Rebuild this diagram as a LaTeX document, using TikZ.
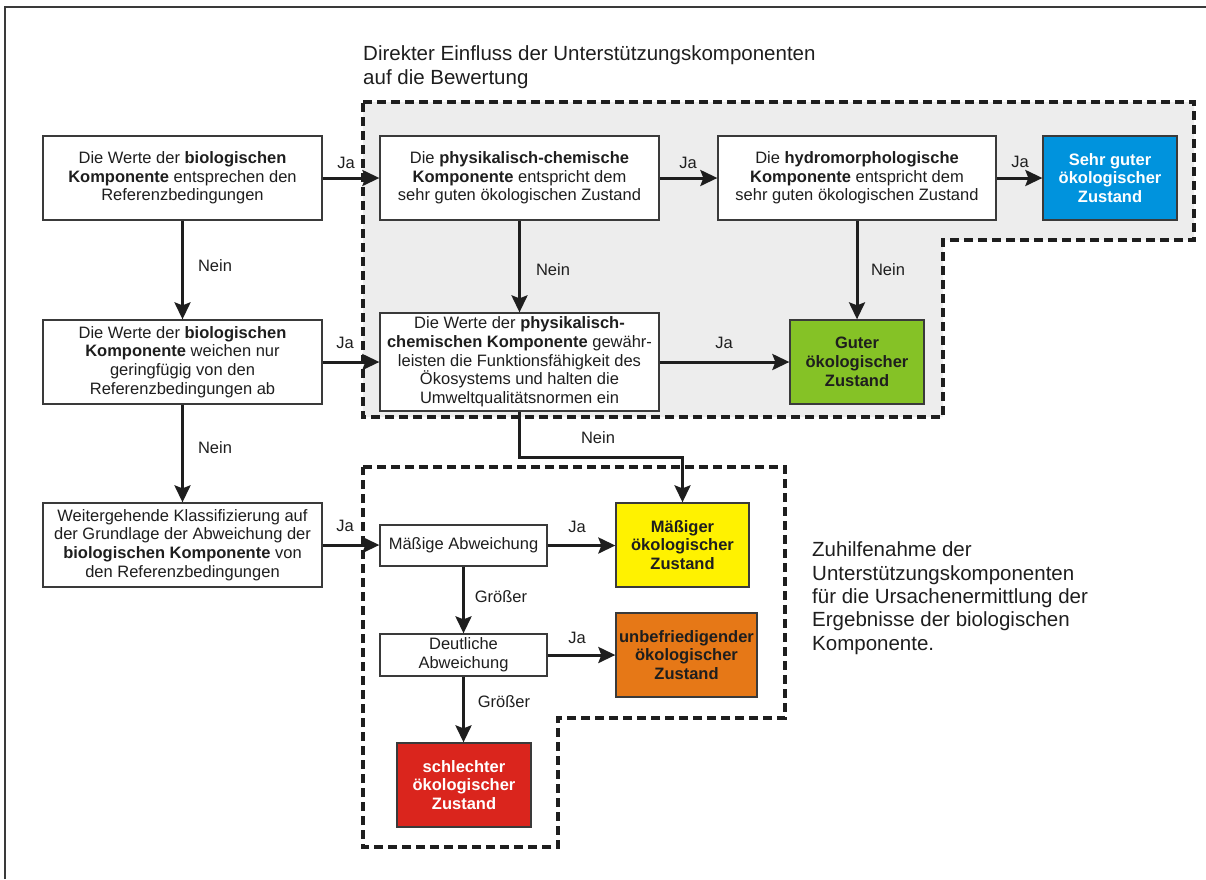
\documentclass[tikz,border=0pt]{standalone}
\usepackage{fontspec}
\setmainfont{Liberation Sans}
\usetikzlibrary{arrows.meta,calc}
\definecolor{txt}{HTML}{1E1E1E}
\definecolor{frame}{HTML}{3A3A3A}
\definecolor{grayfill}{HTML}{EDEDED}
\definecolor{cblue}{HTML}{0093DD}
\definecolor{cgreen}{HTML}{85C226}
\definecolor{cyellow}{HTML}{FFF200}
\definecolor{corange}{HTML}{E67817}
\definecolor{cred}{HTML}{DA251D}
\begin{document}
\begin{tikzpicture}[x=1pt,y=-1pt,
  box/.style={draw=frame, line width=1.3pt, fill=white, text=txt, align=center, inner sep=0pt,
    font=\fontsize{16.5}{18.7}\selectfont},
  statebox/.style={box, font=\fontsize{16.5}{18.7}\selectfont\bfseries},
  lab/.style={text=txt, font=\fontsize{16.5}{18}\selectfont, inner sep=0pt},
  arr/.style={draw=txt, line width=3pt, -{Stealth[length=17pt,width=16pt,inset=3pt]}},
  region/.style={draw=txt, line width=3.4pt, dash pattern=on 9pt off 5pt},
  bigtext/.style={text=txt, align=left, inner sep=0pt, font=\fontsize{20.5}{23.3}\selectfont}
]
\useasboundingbox (0,0) rectangle (1206,879);
% outer frame (partly visible)
\draw[draw=frame, line width=2pt] (5,879) -- (5,7) -- (1206,7);

% regions
\fill[grayfill] (363,102) -- (1194,102) -- (1194,240) -- (943,240) -- (943,417) -- (363,417) -- cycle;
\draw[region] (363,102) -- (1194,102) -- (1194,240) -- (943,240) -- (943,417) -- (363,417) -- cycle;
\draw[region] (363,467) -- (785,467) -- (785,718) -- (558,718) -- (558,847) -- (363,847) -- cycle;

% region texts
\node[bigtext, anchor=north west] (t1) at (363,45.8)
  {Direkter Einfluss der Unterstützungskomponenten\\auf die Bewertung};
\node[bigtext, anchor=north west] (t2) at (812,541.8)
  {Zuhilfenahme der\\Unterstützungskomponenten\\für die Ursachenermittlung der\\Ergebnisse der biologischen\\Komponente.};

% boxes
\node[box, minimum width=279pt, minimum height=84pt] (A) at (182.5,178)
  {Die Werte der \textbf{biologischen}\\\textbf{Komponente} entsprechen den\\Referenzbedingungen};
\node[box, minimum width=279pt, minimum height=84pt] (B) at (519.5,178)
  {Die \textbf{physikalisch-chemische}\\\textbf{Komponente} entspricht dem\\sehr guten ökologischen Zustand};
\node[box, minimum width=278pt, minimum height=84pt] (C) at (857,178)
  {Die \textbf{hydromorphologische}\\\textbf{Komponente} entspricht dem\\sehr guten ökologischen Zustand};
\node[statebox, fill=cblue, text=white, minimum width=134pt, minimum height=84pt] (D) at (1110,178)
  {Sehr guter\\ökologischer\\Zustand};
\node[box, minimum width=279pt, minimum height=84pt] (E) at (182.5,362)
  {Die Werte der \textbf{biologischen}\\\textbf{Komponente} weichen nur\\geringfügig von den\\Referenzbedingungen ab};
\node[box, minimum width=279pt, minimum height=98pt] (F) at (519.5,362)
  {Die Werte der \textbf{physikalisch-}\\\textbf{chemischen Komponente} gewähr-\\leisten die Funktionsfähigkeit des\\Ökosystems und halten die\\Umweltqualitätsnormen ein};
\node[statebox, fill=cgreen, minimum width=134pt, minimum height=84pt] (G) at (857,362)
  {Guter\\ökologischer\\Zustand};
\node[box, minimum width=279pt, minimum height=84pt] (H) at (182.5,545)
  {Weitergehende Klassifizierung auf\\der Grundlage der Abweichung der\\\textbf{biologischen Komponente} von\\den Referenzbedingungen};
\node[box, minimum width=167pt, minimum height=41pt] (I) at (463.5,545.5)
  {Mäßige Abweichung};
\node[statebox, fill=cyellow, minimum width=133pt, minimum height=84pt] (J) at (682.5,545)
  {Mäßiger\\ökologischer\\Zustand};
\node[box, minimum width=167pt, minimum height=42pt] (K) at (463.5,655)
  {Deutliche\\Abweichung};
\node[statebox, fill=corange, minimum width=141pt, minimum height=84pt] (L) at (686.5,655)
  {unbefriedigender\\ökologischer\\Zustand};
\node[statebox, fill=cred, text=white, minimum width=134pt, minimum height=84pt] (M) at (464,785)
  {schlechter\\ökologischer\\Zustand};

% connectors
\coordinate (fj) at (682.5,457);
\draw[arr] (A.east) -- (B.west);
\draw[arr] (B.east) -- (C.west);
\draw[arr] (C.east) -- (D.west);
\draw[arr] (A.south) -- (E.north);
\draw[arr] (B.south) -- (F.north);
\draw[arr] (C.south) -- (G.north);
\draw[arr] (E.east) -- (F.west);
\draw[arr] (F.east) -- (G.west);
\draw[arr] (E.south) -- (H.north);
\draw[arr] (F.south) |- (fj) -- (J.north);
\draw[arr] (H.east) -- (H.east -| I.west);
\draw[arr] (I.east) -- (I.east -| J.west);
\draw[arr] (I.south) -- (K.north);
\draw[arr] (K.east) -- (K.east -| L.west);
\draw[arr] (K.south) -- (K.south |- M.north);

% connector labels
\node[lab] (l1) at (346,163) {Ja};
\node[lab] (l2) at (688,163) {Ja};
\node[lab] (l3) at (1020,162) {Ja};
\node[lab] (l4) at (215,266) {Nein};
\node[lab] (l5) at (553,270) {Nein};
\node[lab] (l6) at (888,270) {Nein};
\node[lab] (l7) at (345,343) {Ja};
\node[lab] (l8) at (724,343) {Ja};
\node[lab] (l9) at (215,448) {Nein};
\node[lab] (l10) at (598,438) {Nein};
\node[lab] (l11) at (345,526) {Ja};
\node[lab] (l12) at (577,527) {Ja};
\node[lab] (l13) at (501,597) {Größer};
\node[lab] (l14) at (577,638) {Ja};
\node[lab] (l15) at (504,702) {Größer};
\end{tikzpicture}
\end{document}
